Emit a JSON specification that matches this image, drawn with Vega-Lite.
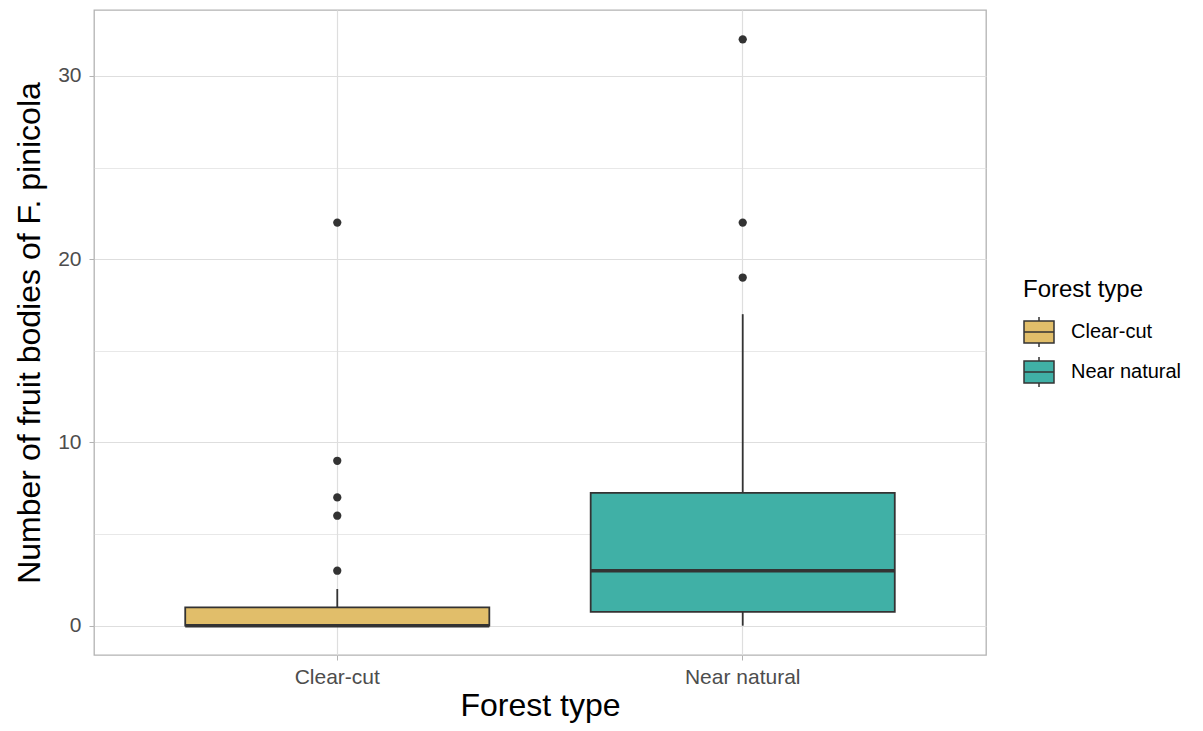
{
  "$schema": "https://vega.github.io/schema/vega-lite/v6.json",
  "width": 892,
  "height": 645,
  "autosize": {"type": "none"},
  "padding": {"left": 94, "top": 10, "right": 217, "bottom": 76},
  "background": "white",
  "datasets": {
    "boxes": [
      {"type": "Clear-cut", "lower": 0, "q1": 0, "median": 0, "q3": 1, "upper": 2},
      {"type": "Near natural", "lower": 0, "q1": 0.75, "median": 3, "q3": 7.25, "upper": 17}
    ],
    "outliers": [
      {"type": "Clear-cut", "value": 3},
      {"type": "Clear-cut", "value": 6},
      {"type": "Clear-cut", "value": 7},
      {"type": "Clear-cut", "value": 9},
      {"type": "Clear-cut", "value": 22},
      {"type": "Near natural", "value": 19},
      {"type": "Near natural", "value": 22},
      {"type": "Near natural", "value": 32}
    ]
  },
  "encoding": {
    "x": {
      "field": "type",
      "type": "nominal",
      "scale": {"paddingInner": 0.25, "paddingOuter": 0.225},
      "axis": {"title": "Forest type", "labelAngle": 0, "bandPosition": 0.5, "grid": true}
    }
  },
  "layer": [
    {
      "data": {"name": "boxes"},
      "mark": {"type": "rule", "stroke": "#333333", "strokeWidth": 1.8},
      "encoding": {
        "y": {"field": "q3", "type": "quantitative", "scale": {"domain": [-1.6, 33.6], "nice": false, "zero": false},
          "axis": {"title": "Number of fruit bodies of F. pinicola", "values": [0, 5, 10, 15, 20, 25, 30],
            "labelExpr": "datum.value % 10 === 0 ? datum.label : ''",
            "gridWidth": {"condition": {"test": "datum.value % 10 === 0", "value": 1.2}, "value": 0.7},
            "tickOpacity": {"condition": {"test": "datum.value % 10 === 0", "value": 1}, "value": 0}}},
        "y2": {"field": "upper"}
      }
    },
    {
      "data": {"name": "boxes"},
      "mark": {"type": "rule", "stroke": "#333333", "strokeWidth": 1.8},
      "encoding": {
        "y": {"field": "lower", "type": "quantitative"},
        "y2": {"field": "q1"}
      }
    },
    {
      "data": {"name": "boxes"},
      "mark": {"type": "bar", "stroke": "#333333", "strokeWidth": 1.8},
      "encoding": {
        "y": {"field": "q1", "type": "quantitative"},
        "y2": {"field": "q3"},
        "fill": {
          "field": "type",
          "type": "nominal",
          "scale": {"domain": ["Clear-cut", "Near natural"], "range": ["#E1BE6A", "#40B0A6"]},
          "legend": {
            "title": "Forest type",
            "orient": "none",
            "legendX": 929,
            "legendY": 268,
            "symbolType": "M-1,-0.73H1V0.73H-1Z M-1,0H1 M0,-0.73V-1 M0,0.73V1",
            "symbolSize": 900,
            "symbolStrokeColor": "#333333",
            "symbolStrokeWidth": 1.5,
            "symbolOpacity": 1,
            "rowPadding": 4,
            "titlePadding": 14,
            "labelOffset": 16,
            "padding": 0
          }
        }
      }
    },
    {
      "data": {"name": "boxes"},
      "mark": {"type": "bar", "stroke": "#333333", "fill": "#333333", "strokeWidth": 3.6},
      "encoding": {
        "y": {"field": "median", "type": "quantitative"},
        "y2": {"field": "median"}
      }
    },
    {
      "data": {"name": "outliers"},
      "mark": {"type": "circle", "color": "#333333", "opacity": 1, "size": 68},
      "encoding": {
        "y": {"field": "value", "type": "quantitative"}
      }
    }
  ],
  "config": {
    "font": "Liberation Sans",
    "view": {"stroke": "#b3b3b3", "strokeWidth": 1.3},
    "axis": {
      "domain": false,
      "gridColor": "#dedede",
      "gridWidth": 1.2,
      "tickColor": "#b3b3b3",
      "tickSize": 5,
      "tickWidth": 1,
      "labelFont": "Liberation Sans",
      "labelFontSize": 21,
      "labelColor": "#4d4d4d",
      "labelPadding": 6,
      "titleFont": "Liberation Sans",
      "titleFontSize": 32,
      "titleFontWeight": "normal",
      "titleColor": "#000000"
    },
    "axisX": {"titlePadding": 3},
    "axisY": {"titlePadding": 11, "labelPadding": 8},
    "legend": {
      "titleFont": "Liberation Sans",
      "titleFontSize": 24,
      "titleFontWeight": "normal",
      "titleColor": "#000000",
      "labelFont": "Liberation Sans",
      "labelFontSize": 20,
      "labelColor": "#000000"
    }
  }
}
